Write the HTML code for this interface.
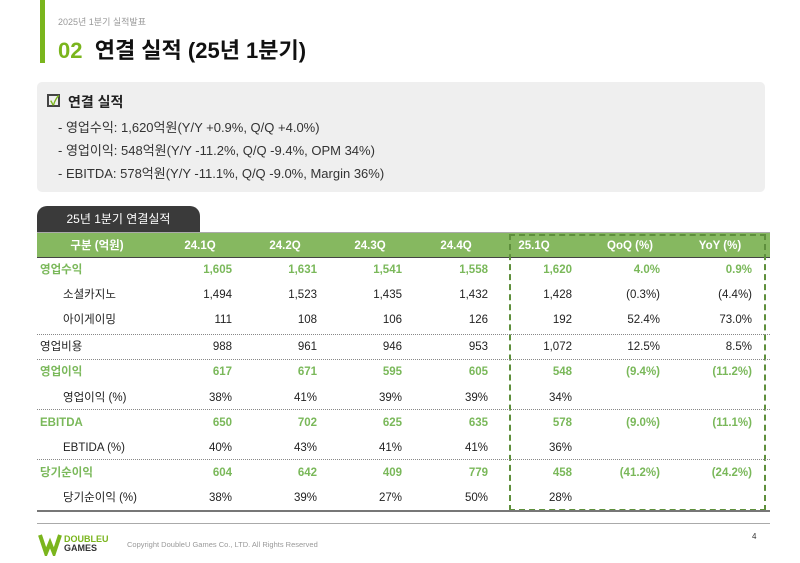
<!DOCTYPE html>
<html><head><meta charset="utf-8"><style>
*{margin:0;padding:0;box-sizing:border-box}
body{width:800px;height:563px;background:#fff;position:relative;overflow:hidden;font-family:"Liberation Sans","Noto Sans CJK KR",sans-serif;color:#222}
.a{position:absolute;white-space:nowrap}
.r{position:absolute;white-space:nowrap;text-align:right;font-size:11.5px;line-height:14px}
.l{position:absolute;white-space:nowrap;font-size:11.5px;line-height:14px}
.g{color:#7ab85a;font-weight:bold}
.h{position:absolute;color:#fff;font-weight:bold;font-size:11.5px;line-height:14px;text-align:center}
.sep{position:absolute;left:37px;width:733px;border-top:1px dotted #888}
</style></head><body>
<div class="a" style="left:40px;top:0;width:5px;height:63px;background:#7ab51d"></div>
<div class="a" style="left:58px;top:15px;font-size:9px;color:#999">2025년 1분기 실적발표</div>
<div class="a" style="left:58px;top:33px;font-size:22px;font-weight:bold;color:#111"><span style="color:#7ab51d">02</span>&nbsp; 연결 실적 (25년 1분기)</div>
<div class="a" style="left:37px;top:82px;width:728px;height:110px;background:#efefef;border-radius:5px"></div>
<div class="a" style="left:47px;top:94px;width:13px;height:13px;border:2px solid #444"></div>
<div class="a" style="left:50px;top:90px;font-size:13px;color:#7ab51d;font-weight:bold">✓</div>
<div class="a" style="left:68px;top:92px;font-size:14px;font-weight:bold;color:#222">연결 실적</div>
<div class="a" style="left:58px;top:117px;font-size:13px;color:#333">- 영업수익: 1,620억원(Y/Y +0.9%, Q/Q +4.0%)</div>
<div class="a" style="left:58px;top:140px;font-size:13px;color:#333">- 영업이익: 548억원(Y/Y -11.2%, Q/Q -9.4%, OPM 34%)</div>
<div class="a" style="left:58px;top:163px;font-size:13px;color:#333">- EBITDA: 578억원(Y/Y -11.1%, Q/Q -9.0%, Margin 36%)</div>

<div class="a" style="left:37px;top:206px;width:163px;height:27px;background:#3a3a3a;border-radius:10px 10px 0 0;color:#fff;font-size:12px;text-align:center;line-height:26px">25년 1분기 연결실적</div>
<div class="a" style="left:37px;top:232px;width:733px;height:26px;background:#86b860;border-top:1px solid #aaa;border-bottom:1px solid #444"></div>
<div class="a" style="left:509px;top:234px;width:257px;height:277px;border:2px dashed #5e8f3c"></div>
<div class="h" style="left:47px;width:100px;top:239px">구분 (억원)</div>
<div class="h" style="left:160px;width:80px;top:239px">24.1Q</div>
<div class="h" style="left:245px;width:80px;top:239px">24.2Q</div>
<div class="h" style="left:330px;width:80px;top:239px">24.3Q</div>
<div class="h" style="left:416px;width:80px;top:239px">24.4Q</div>
<div class="h" style="left:504px;width:60px;top:239px">25.1Q</div>
<div class="h" style="left:595px;width:70px;top:239px">QoQ (%)</div>
<div class="h" style="left:685px;width:70px;top:239px">YoY (%)</div>

<div class="sep" style="top:334px"></div>
<div class="sep" style="top:359px"></div>
<div class="sep" style="top:409px"></div>
<div class="sep" style="top:459px"></div>
<div class="a" style="left:37px;top:510px;width:733px;height:2px;background:#777"></div>
<div class="a" style="left:37px;top:523px;width:733px;height:1px;background:#aaa"></div>

<div id="rows"></div>
<script>
var rows=[
[263,'영업수익',1,['1,605','1,631','1,541','1,558','1,620','4.0%','0.9%']],
[288,'소셜카지노',0,['1,494','1,523','1,435','1,432','1,428','(0.3%)','(4.4%)']],
[313,'아이게이밍',0,['111','108','106','126','192','52.4%','73.0%']],
[340,'영업비용',2,['988','961','946','953','1,072','12.5%','8.5%']],
[365,'영업이익',1,['617','671','595','605','548','(9.4%)','(11.2%)']],
[391,'영업이익 (%)',0,['38%','41%','39%','39%','34%','','']],
[416,'EBITDA',1,['650','702','625','635','578','(9.0%)','(11.1%)']],
[441,'EBTIDA (%)',0,['40%','43%','41%','41%','36%','','']],
[466,'당기순이익',1,['604','642','409','779','458','(41.2%)','(24.2%)']],
[491,'당기순이익 (%)',0,['38%','39%','27%','50%','28%','','']]];
var rx=[232,317,402,488,572,660,752],h='';
rows.forEach(function(r){var c=r[2]==1?' g':'';var lx=r[2]==0?63:40;
h+='<div class="l'+c+'" style="left:'+lx+'px;top:'+r[0]+'px">'+r[1]+'</div>';
r[3].forEach(function(v,i){h+='<div class="r'+c+'" style="left:'+(rx[i]-80)+'px;width:80px;top:'+r[0]+'px">'+v+'</div>';});});
document.getElementById('rows').innerHTML=h;
</script>

<svg class="a" style="left:37px;top:532px" width="26" height="24" viewBox="0 0 26 24"><path d="M3 3 L9 21 L13 11 L17 21 L23 3" fill="none" stroke="#7ab51d" stroke-width="4"/></svg>
<div class="a" style="left:64px;top:535px;font-size:9px;font-weight:bold;line-height:9px;color:#7ab51d">DOUBLEU<br><span style="color:#333">GAMES</span></div>
<div class="a" style="left:127px;top:540px;font-size:7.5px;color:#999">Copyright DoubleU Games Co., LTD. All Rights Reserved</div>
<div class="a" style="left:752px;top:532px;font-size:8px;color:#333">4</div>
</body></html>
